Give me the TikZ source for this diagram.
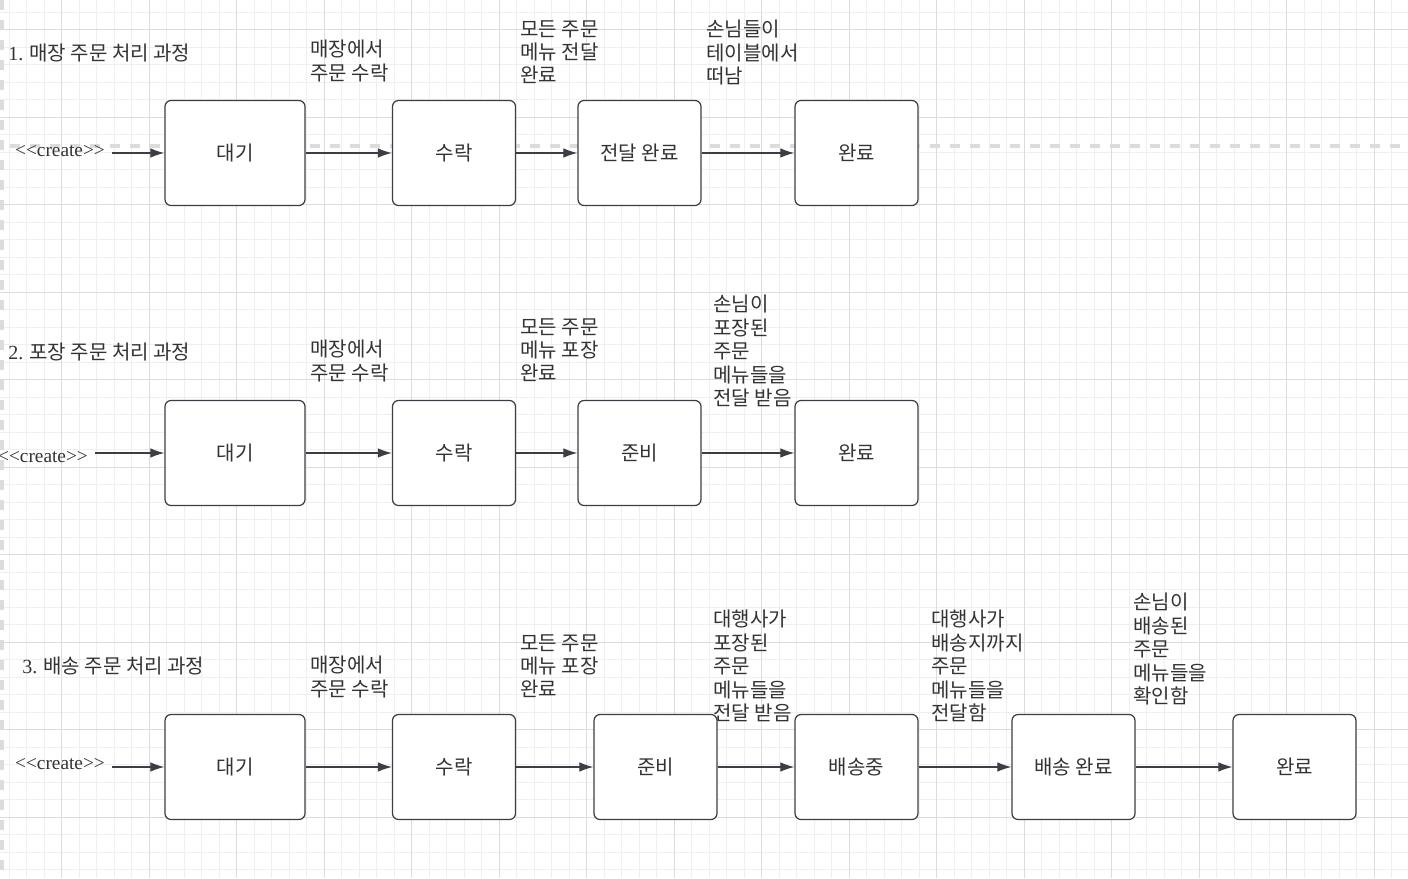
\documentclass[tikz,border=0pt]{standalone}
\usepackage{fontspec}
\setmainfont{Liberation Serif}
\newfontfamily\kr{Noto Sans CJK KR}
\usetikzlibrary{arrows.meta,positioning}

\definecolor{inkgray}{HTML}{3B3F45}
\definecolor{textgray}{HTML}{333333}
\definecolor{gridminor}{HTML}{EFEFEF}
\definecolor{gridmajor}{HTML}{DCDCDC}

\begin{document}
\begin{tikzpicture}[x=0.02cm, y=-0.02cm,
    statebox/.style={draw=inkgray, line width=0.7pt, rounded corners=0.12cm, fill=white,
        minimum width=2.46cm, minimum height=2.1cm, font=\kr\fontsize{11.4}{13}\selectfont, text=textgray},
    note/.style={anchor=north west, align=left, inner sep=0pt, font=\kr\fontsize{11.4}{13.3}\selectfont, text=textgray},
    heading/.style={anchor=west, inner sep=0pt, font=\kr\fontsize{11.4}{13}\selectfont, text=textgray},
    createtxt/.style={font=\rmfamily\fontsize{11}{13}\selectfont, text=textgray, inner xsep=4pt, inner ysep=0pt},
    flow/.style={-{Latex[length=0.28cm,width=0.19cm]}, draw=inkgray, line width=0.65pt}]

    % Canvas and grid
    \useasboundingbox (0,0) rectangle (1408,878);
    \fill[white] (0,0) rectangle (1408,878);
    \foreach \i in {0,...,80} \draw[gridminor, line width=0.5pt] ({9.3+17.5*\i},0) -- ({9.3+17.5*\i},878);
    \foreach \i in {0,...,49} \draw[gridminor, line width=0.5pt] (0,{12.3+17.5*\i}) -- (1408,{12.3+17.5*\i});
    \foreach \i in {0,...,15} \draw[gridmajor, line width=0.5pt] ({61.8+87.5*\i},0) -- ({61.8+87.5*\i},878);
    \foreach \i in {0,...,9} \draw[gridmajor, line width=0.5pt] (0,{29.8+87.5*\i}) -- (1408,{29.8+87.5*\i});

    % Dashed guides
    \draw[gridmajor, line width=2pt, dash pattern=on 0.2cm off 0.2cm] (10,146) -- (1408,146);
    \draw[gridmajor, line width=2pt, dash pattern=on 0.2cm off 0.2cm] (2,0) -- (2,878);

    % Row 1 - dine-in orders
    \node[heading] (head1) at (8,53) {{\rmfamily 1.} 매장 주문 처리 과정};
    \node[createtxt] (create1) at (60,151) {<{}<create>{}>};
    \node[statebox, minimum width=2.8cm] (wait1) at (235,153) {대기};
    \node[statebox] (accept1) at (454,153) {수락};
    \node[statebox] (handed1) at (639.5,153) {전달 완료};
    \node[statebox] (done1) at (856.5,153) {완료};

    \draw[flow] (create1.east |- wait1) -- (wait1);
    \draw[flow] (wait1) -- (accept1);
    \draw[flow] (accept1) -- (handed1);
    \draw[flow] (handed1) -- (done1);

    \node[note] (lblaccept1) at (310,40) {매장에서\\주문 수락};
    \node[note] (lblhanded1) at (520,20) {모든 주문\\메뉴 전달\\완료};
    \node[note] (lbldone1) at (706,20) {손님들이\\테이블에서\\떠남};

    % Row 2 - takeout orders
    \node[heading] (head2) at (8,352) {{\rmfamily 2.} 포장 주문 처리 과정};
    \node[createtxt] (create2) at (43,457) {<{}<create>{}>};
    \node[statebox, minimum width=2.8cm] (wait2) at (235,453) {대기};
    \node[statebox] (accept2) at (454,453) {수락};
    \node[statebox] (ready2) at (639.5,453) {준비};
    \node[statebox] (done2) at (856.5,453) {완료};

    \draw[flow] (create2.east |- wait2) -- (wait2);
    \draw[flow] (wait2) -- (accept2);
    \draw[flow] (accept2) -- (ready2);
    \draw[flow] (ready2) -- (done2);

    \node[note] (lblaccept2) at (310,340) {매장에서\\주문 수락};
    \node[note] (lblready2) at (520,318) {모든 주문\\메뉴 포장\\완료};
    \node[note] (lbldone2) at (713,295) {손님이\\포장된\\주문\\메뉴들을\\전달 받음};

    % Row 3 - delivery orders
    \node[heading] (head3) at (22,666) {{\rmfamily 3.} 배송 주문 처리 과정};
    \node[createtxt] (create3) at (60,764) {<{}<create>{}>};
    \node[statebox, minimum width=2.8cm] (wait3) at (235,767) {대기};
    \node[statebox] (accept3) at (454,767) {수락};
    \node[statebox] (ready3) at (655.5,767) {준비};
    \node[statebox] (shipping3) at (856.5,767) {배송중};
    \node[statebox] (shipped3) at (1073.5,767) {배송 완료};
    \node[statebox] (done3) at (1294.5,767) {완료};

    \draw[flow] (create3.east |- wait3) -- (wait3);
    \draw[flow] (wait3) -- (accept3);
    \draw[flow] (accept3) -- (ready3);
    \draw[flow] (ready3) -- (shipping3);
    \draw[flow] (shipping3) -- (shipped3);
    \draw[flow] (shipped3) -- (done3);

    \node[note] (lblaccept3) at (310,656) {매장에서\\주문 수락};
    \node[note] (lblready3) at (520,634) {모든 주문\\메뉴 포장\\완료};
    \node[note] (lblshipping3) at (713,610) {대행사가\\포장된\\주문\\메뉴들을\\전달 받음};
    \node[note] (lblshipped3) at (931,610) {대행사가\\배송지까지\\주문\\메뉴들을\\전달함};
    \node[note] (lbldone3) at (1133,593) {손님이\\배송된\\주문\\메뉴들을\\확인함};

\end{tikzpicture}
\end{document}
